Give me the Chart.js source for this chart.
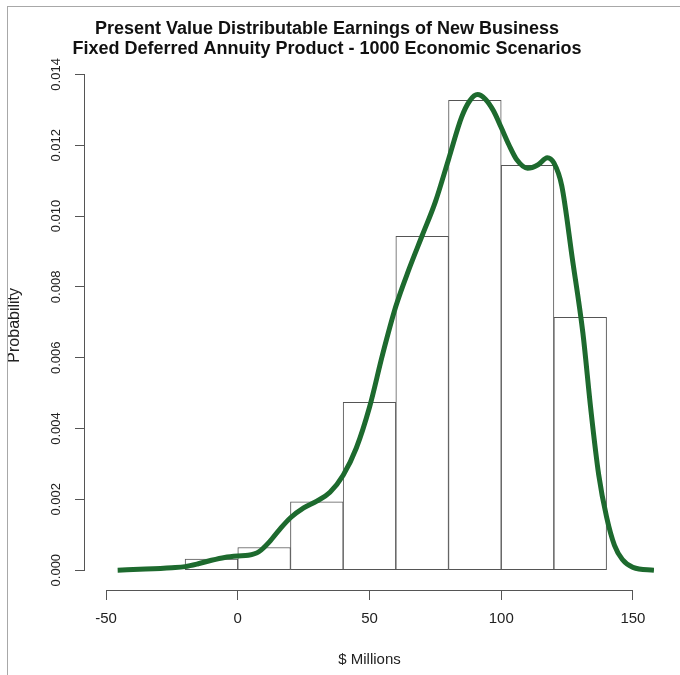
<!DOCTYPE html>
<html>
<head>
<meta charset="utf-8">
<script src="https://cdn.jsdelivr.net/npm/chart.js@4.4.1/dist/chart.umd.min.js"></script>
<style>
  body { margin: 0; background: #fff; }
  #wrap { position: relative; width: 680px; height: 675px; overflow: hidden; }
  #frame { position: absolute; left: 7px; top: 6px; width: 700px; height: 700px;
           border-left: 1px solid #a8a8a8; border-top: 1px solid #a8a8a8; pointer-events: none; }
</style>
</head>
<body>
<div id="wrap">
  <canvas id="histChart" width="680" height="675"></canvas>
  <div id="frame"></div>
</div>
<script>
// histogram bins ($ millions, width 20) and density heights
const binMids = [-10, 10, 30, 50, 70, 90, 110, 130];
const binDensity = [0.00031, 0.00064, 0.00193, 0.00474, 0.00943, 0.01327, 0.01143, 0.00714];

// kernel density curve
const curveX = [-45.6, -35, -25, -20, -15, -10, -5, 0, 4, 8, 12, 16, 20, 25, 30, 35, 40, 45, 50, 55,
  60, 65, 70, 75, 80, 85, 88, 91, 94, 97, 100, 103, 106, 110, 114, 117.5, 120, 123, 127, 131,
  134, 137, 140, 143, 146, 150, 158];
const curveY = [0.00000, 0.00003, 0.00007, 0.00010, 0.00018, 0.00028, 0.00036, 0.00040, 0.00042, 0.00052,
  0.00080, 0.00116, 0.00148, 0.00176, 0.00195, 0.00220, 0.00268, 0.00345, 0.00460, 0.00610,
  0.00745, 0.00850, 0.00945, 0.01040, 0.01160, 0.01280, 0.01325, 0.01343, 0.01330, 0.01298,
  0.01250, 0.01200, 0.01158, 0.01135, 0.01145, 0.01165, 0.01150, 0.01085, 0.00880, 0.00670,
  0.00455, 0.00270, 0.00150, 0.00070, 0.00030, 0.00008, 0.00000];

const xTicks = [-50, 0, 50, 100, 150];
const yTicks = [0, 0.002, 0.004, 0.006, 0.008, 0.010, 0.012, 0.014];

const axisGray = '#555';

// R style axis lines, only spanning the tick range
const rAxes = {
  id: 'rAxes',
  afterDraw(chart) {
    const { ctx, scales: { x, y }, chartArea } = chart;
    ctx.save();
    ctx.strokeStyle = axisGray;
    ctx.lineWidth = 1;
    ctx.beginPath();
    ctx.moveTo(x.getPixelForValue(xTicks[0]), chartArea.bottom + 0.5);
    ctx.lineTo(x.getPixelForValue(xTicks[xTicks.length - 1]), chartArea.bottom + 0.5);
    ctx.moveTo(chartArea.left - 0.5, y.getPixelForValue(yTicks[0]));
    ctx.lineTo(chartArea.left - 0.5, y.getPixelForValue(yTicks[yTicks.length - 1]));
    ctx.stroke();
    ctx.restore();
  }
};

const ctx = document.getElementById('histChart').getContext('2d');
new Chart(ctx, {
  type: 'bar',
  data: {
    datasets: [{
      type: 'line',
      data: curveX.map((v, i) => ({ x: v, y: curveY[i] })),
      borderColor: '#1d6a2e',
      borderWidth: 5,
      pointRadius: 0,
      cubicInterpolationMode: 'monotone',
      fill: false,
      order: 0
    }, {
      data: binMids.map((v, i) => ({ x: v, y: binDensity[i] })),
      backgroundColor: '#ffffff',
      borderColor: axisGray,
      borderWidth: 1,
      borderSkipped: false,
      barPercentage: 1,
      categoryPercentage: 1,
      order: 1
    }]
  },
  options: {
    responsive: false,
    animation: false,
    layout: { padding: { left: 0, right: 26, top: 0, bottom: 0 } },
    plugins: {
      legend: { display: false },
      tooltip: { enabled: false },
      title: {
        display: true,
        text: ['Present Value Distributable Earnings of New Business',
               'Fixed Deferred Annuity Product - 1000 Economic Scenarios'],
        color: '#111',
        font: { family: 'Liberation Sans', size: 18, weight: 'bold', lineHeight: 1.1 },
        padding: { top: 19, bottom: 2 }
      }
    },
    scales: {
      x: {
        type: 'linear',
        min: -58,
        max: 158,
        offset: false,
        afterBuildTicks: s => { s.ticks = xTicks.map(v => ({ value: v })); },
        afterFit: s => { s.height = 85; },
        grid: { offset: false, drawOnChartArea: false, drawTicks: true, tickLength: 10, color: axisGray },
        border: { display: false },
        ticks: { color: '#222', padding: 10, font: { family: 'Liberation Sans', size: 15 } },
        title: { display: true, text: '$ Millions', color: '#222',
                 font: { family: 'Liberation Sans', size: 15 }, padding: { top: 0, bottom: 6 } }
      },
      y: {
        min: -0.00056,
        max: 0.01439,
        afterBuildTicks: s => { s.ticks = yTicks.map(v => ({ value: v })); },
        afterFit: s => { s.width = 85; },
        grid: { drawOnChartArea: false, drawTicks: true, tickLength: 10, color: axisGray },
        border: { display: false },
        ticks: {
          color: '#222', padding: 2, minRotation: 90, maxRotation: 90, crossAlign: 'center',
          font: { family: 'Liberation Sans', size: 13 },
          callback: v => v.toFixed(3)
        },
        title: { display: true, text: 'Probability', color: '#222',
                 font: { family: 'Liberation Sans', size: 16 }, padding: { top: 5, bottom: 0 } }
      }
    }
  },
  plugins: [rAxes]
});
</script>
</body>
</html>
